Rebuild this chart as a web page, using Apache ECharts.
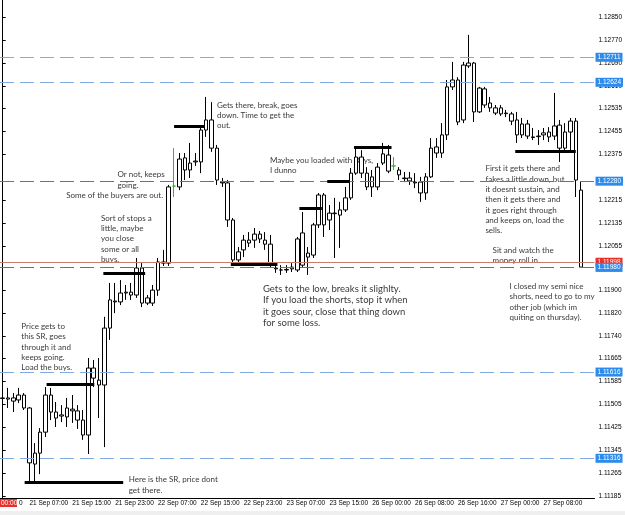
<!DOCTYPE html>
<html><head><meta charset="utf-8">
<script src="https://cdn.jsdelivr.net/npm/echarts@6/dist/echarts.min.js"></script>
<style>html,body{margin:0;padding:0;background:#fff}#c{width:625px;height:515px}</style>
</head><body><div id="c"></div>
<script>
// ---- categories (H1 bars, weekend gap) ----
const sessions = [
  {month:'Sep', day:21, hour:2, count:69},   // 21 Sep 02:00 .. 23 Sep 22:00
  {month:'Sep', day:26, hour:0, count:42}    // 26 Sep 00:00 .. 27 Sep 17:00
];
const categories = [];
sessions.forEach(s => {
  for (let k = 0; k < s.count; k++) {
    const h = s.hour + k;
    const d = s.day + Math.floor(h / 24);
    const hh = h % 24;
    categories.push(d + ' ' + s.month + ' ' + (hh < 10 ? '0' : '') + hh + ':00');
  }
});
const labelEvery = 8, labelStart = 5, labelLast = 101;

// ---- candle values ----
const openP = [
1.11526,1.11522,1.11515,1.11519,1.11536,1.11491,1.11296,1.11334,1.11407,1.11536,
1.11477,1.11463,1.11460,1.11481,1.11481,1.11449,1.11397,1.11630,1.11588,1.11571,
1.11769,1.11863,1.11860,1.11891,1.11884,1.11884,1.11978,1.11874,1.11856,1.11901,
1.11995,1.11995,1.12263,1.12260,1.12319,1.12343,1.12347,1.12347,1.12458,1.12493,
1.12395,1.12277,1.12274,1.12145,1.12006,1.12041,1.12065,1.12075,1.12096,1.12075,
1.12061,1.11978,1.11971,1.11973,1.11975,1.11971,1.12100,1.12016,1.12023,1.12128,
1.12232,1.12145,1.12169,1.12162,1.12180,1.12222,1.12308,1.12364,1.12308,1.12260,
1.12260,1.12343,1.12371,1.12333,1.12319,1.12291,1.12291,1.12277,1.12277,1.12239,
1.12295,1.12378,1.12378,1.12441,1.12608,1.12632,1.12493,1.12681,1.12691,1.12521,
1.12601,1.12552,1.12535,1.12535,1.12517,1.12514,1.12493,1.12441,1.12479,1.12434,
1.12437,1.12441,1.12434,1.12437,1.12475,1.12395,1.12451,1.12489,1.12249];
const closeP = [
1.11524,1.11526,1.11526,1.11536,1.11491,1.11300,1.11334,1.11407,1.11536,1.11477,
1.11456,1.11467,1.11491,1.11487,1.11449,1.11397,1.11630,1.11595,1.11571,1.11769,
1.11867,1.11860,1.11891,1.11894,1.11894,1.11978,1.11856,1.11856,1.11901,1.11999,
1.11999,1.12260,1.12263,1.12357,1.12361,1.12319,1.12350,1.12458,1.12493,1.12395,
1.12284,1.12274,1.12145,1.12006,1.12034,1.12075,1.12075,1.12096,1.12079,1.12061,
1.11992,1.11975,1.11971,1.11971,1.11981,1.12079,1.11988,1.12030,1.12128,1.12232,
1.12128,1.12169,1.12167,1.12180,1.12222,1.12308,1.12364,1.12308,1.12260,1.12295,
1.12329,1.12375,1.12315,1.12333,1.12302,1.12289,1.12281,1.12274,1.12239,1.12295,
1.12395,1.12399,1.12441,1.12608,1.12632,1.12486,1.12684,1.12691,1.12521,1.12604,
1.12545,1.12535,1.12517,1.12514,1.12515,1.12489,1.12441,1.12479,1.12437,1.12432,
1.12435,1.12448,1.12451,1.12472,1.12395,1.12451,1.12489,1.12284,1.11981];
const highP = [
1.11543,1.11561,1.11543,1.11561,1.11543,1.11494,1.11369,1.11421,1.11564,1.11561,
1.11512,1.11501,1.11526,1.11536,1.11501,1.11484,1.11665,1.11658,1.11665,1.11808,
1.11926,1.11926,1.11936,1.11919,1.11926,1.12013,1.11995,1.11884,1.11919,1.12013,
1.12041,1.12267,1.12395,1.12378,1.12378,1.12413,1.12378,1.12468,1.12573,1.12555,
1.12406,1.12291,1.12284,1.12152,1.12051,1.12093,1.12103,1.12117,1.12107,1.12103,
1.12093,1.11988,1.11988,1.11988,1.11995,1.12086,1.12173,1.12051,1.12135,1.12239,
1.12239,1.12197,1.12222,1.12208,1.12260,1.12326,1.12399,1.12388,1.12329,1.12319,
1.12343,1.12413,1.12406,1.12364,1.12329,1.12312,1.12312,1.12308,1.12295,1.12308,
1.12430,1.12430,1.12482,1.12632,1.12695,1.12642,1.12695,1.12789,1.12695,1.12608,
1.12608,1.12573,1.12545,1.12545,1.12528,1.12521,1.12521,1.12500,1.12493,1.12465,
1.12458,1.12465,1.12468,1.12587,1.12493,1.12482,1.12500,1.12500,1.12277];
const lowP = [
1.11508,1.11491,1.11477,1.11508,1.11484,1.11234,1.11230,1.11261,1.11390,1.11449,
1.11425,1.11442,1.11425,1.11439,1.11418,1.11380,1.11331,1.11564,1.11456,1.11355,
1.11728,1.11821,1.11849,1.11867,1.11867,1.11874,1.11842,1.11849,1.11846,1.11881,
1.11985,1.11985,1.12225,1.12249,1.12284,1.12291,1.12333,1.12308,1.12434,1.12382,
1.12267,1.12260,1.12121,1.11992,1.11995,1.12016,1.12051,1.12048,1.12065,1.12041,
1.11978,1.11961,1.11954,1.11961,1.11964,1.11964,1.11981,1.11954,1.12013,1.12117,
1.12086,1.12110,1.12013,1.12048,1.12173,1.12215,1.12302,1.12291,1.12249,1.12225,
1.12249,1.12336,1.12308,1.12319,1.12284,1.12277,1.12267,1.12256,1.12208,1.12215,
1.12291,1.12361,1.12361,1.12423,1.12597,1.12475,1.12482,1.12674,1.12486,1.12517,
1.12535,1.12521,1.12510,1.12507,1.12503,1.12475,1.12413,1.12430,1.12427,1.12423,
1.12406,1.12423,1.12416,1.12423,1.12347,1.12388,1.12388,1.12225,1.11978];
const greenBars = [32, 73];

// ---- price axis ----
const yMin = 1.111779, yMax = 1.129103;
const yTicks = [1.11185,1.11265,1.11345,1.11425,1.11505,1.11585,1.11665,1.11740,1.11820,1.11900,
                1.12055,1.12135,1.12215,1.12375,1.12455,1.12535,1.12610,1.12690,1.12770,1.12850];

// ---- horizontal levels ----
const levelPrices = [1.12711, 1.12624, 1.12280, 1.11998, 1.11980, 1.11616, 1.11316];
const levelKinds  = ['light', 'light', 'dark', 'red', 'dark', 'light', 'light'];

// ---- drawn S/R segments (bar index from..to, price) ----
const srPrice = [1.11234, 1.11574, 1.11961, 1.12472, 1.11992, 1.12187, 1.12281, 1.12399, 1.12385];
const srFrom  = [4.1, 8.2, 18.8, 32.0, 42.6, 55.4, 60.6, 65.6, 95.7];
const srTo    = [22.5, 17.1, 26.6, 37.6, 51.3, 59.6, 64.8, 72.6, 107.0];

// ---- text notes (anchor: bar index, price of top-left) ----
const noteText = [
  'Here is the SR, price dont\nget there.',
  'Price gets to\nthis SR, goes\nthrough it and\nkeeps going.\nLoad the buys.',
  'Sort of stops a\nlittle, maybe\nyou close\nsome or all\nbuys.',
  'Or not, keeps\ngoing.',
  'Some of the buyers are out.',
  'Gets there, break, goes\ndown. Time to get the\nout.',
  'Maybe you loaded with Buys,\nI dunno',
  'Gets to the low, breaks it slighlty.\nIf you load the shorts, stop it when\nit goes sour, close that thing down\nfor some loss.',
  'First it gets there and\nfakes a little down, but\nit doesnt sustain, and\nthen it gets there and\nit goes right through\nand keeps on, load the\nsells.',
  'Sit and watch the\nmoney roll in',
  'I closed my semi nice\nshorts, need to go to my\nother job (which im\nquiting on thursday).'
];
const noteX = [23.63, 3.58, 18.43, 21.53, 11.94, 40.10, 49.99, 48.69, 90.22, 91.57, 94.73];
const noteY = [1.11258, 1.11791, 1.12168, 1.12318, 1.12246, 1.12561, 1.12369, 1.11923, 1.12339, 1.12055, 1.11930];
const noteBig = [7];   // the note written in a larger font

// ---------------- build ----------------
const AX_FONT = 'Liberation Sans';
const levelStyle = {
  light: {line: {color: '#7EABE0', width: 1, type: [14, 6]}, box: '#2D8CEB'},
  dark:  {line: {color: '#3A7AD2', width: 1, type: [14, 6]}, box: '#2D8CEB'},
  red:   {line: {color: '#CC7A6E', width: 1, type: 'solid'}, box: '#E5322B'}
};
const greenStyle = {color: '#fff', color0: '#fff', borderColor: '#22c022', borderColor0: '#22c022', borderColorDoji: '#22c022'};

const candleData = openP.map((o, i) => {
  const v = [o, closeP[i], lowP[i], highP[i]];
  return greenBars.indexOf(i) >= 0 ? {value: v, itemStyle: greenStyle} : v;
});

const showTick = (idx) => idx >= labelStart && idx <= labelLast && (idx - labelStart) % labelEvery === 0;
const X_LO = -0.5, X_HI = 110.5;

const chart = echarts.init(document.getElementById('c'), null, {renderer: 'canvas'});
chart.setOption({
  animation: false,
  backgroundColor: '#fff',
  grid: {left: -2, right: 29, top: 0, bottom: 17, containLabel: false},
  xAxis: [{
    type: 'category', data: categories, boundaryGap: true,
    axisLine: {lineStyle: {color: '#000', width: 1}},
    axisTick: {interval: showTick, alignWithLabel: true, length: 3, lineStyle: {color: '#000'}},
    axisLabel: {interval: showTick, align: 'left', margin: 2, fontSize: 6.5, fontFamily: AX_FONT, color: '#000'},
    splitLine: {show: false}
  }, {
    type: 'value', min: X_LO, max: X_HI, show: false
  }],
  yAxis: {
    type: 'value', position: 'right', min: yMin, max: yMax, scale: true,
    axisLine: {show: true, lineStyle: {color: '#000', width: 1}},
    axisTick: {show: true, customValues: yTicks, length: 3, lineStyle: {color: '#000'}},
    axisLabel: {customValues: yTicks, formatter: v => v.toFixed(5), margin: 4, fontSize: 6.5, fontFamily: AX_FONT, color: '#000'},
    splitLine: {show: false}
  },
  series: [
    {
      type: 'scatter', xAxisIndex: 1, z: 1, silent: true,
      symbolSize: 1, itemStyle: {color: 'transparent'},
      data: noteText.map((t, i) => {
        const big = noteBig.indexOf(i) >= 0;
        return {name: t, value: [noteX[i], noteY[i]],
                label: big ? {fontSize: 9.5, lineHeight: 11.3} : {}};
      }),
      label: {show: true, position: [0, 0], align: 'left', verticalAlign: 'top',
              formatter: p => p.name, fontSize: 8, lineHeight: 10.3, fontFamily: 'Lato', color: '#000'}
    },
    {
      type: 'candlestick', xAxisIndex: 0, z: 2, barWidth: 4, silent: true,
      itemStyle: {color: '#fff', color0: '#fff', borderColor: '#000', borderColor0: '#000', borderColorDoji: '#000', borderWidth: 1},
      data: candleData
    },
    {
      type: 'scatter', xAxisIndex: 1, z: 3, silent: true, symbolSize: 0,
      data: [[X_LO, levelPrices[0]]],
      markLine: {
        silent: true, symbol: 'none', animation: false,
        data: levelPrices.map((p, i) => {
          const st = levelStyle[levelKinds[i]];
          return [{
            coord: [X_LO, p],
            lineStyle: st.line,
            label: {show: true, position: 'end', distance: 1, formatter: () => p.toFixed(5),
                    backgroundColor: st.box, color: '#fff', fontSize: 6.5, fontFamily: AX_FONT,
                    padding: [1, 2, 1, 2]}
          }, {coord: [X_HI, p]}];
        })
      }
    },
    {
      type: 'scatter', xAxisIndex: 1, z: 4, silent: true, symbolSize: 0,
      data: [[X_LO, srPrice[0]]],
      markLine: {
        silent: true, symbol: 'none', animation: false,
        lineStyle: {color: '#000', width: 3, type: 'solid'},
        label: {show: false},
        data: srPrice.map((p, i) => [{coord: [srFrom[i], p]}, {coord: [srTo[i], p]}])
      }
    }
  ],
  graphic: [
    {type: 'rect', left: 0, top: 511, shape: {width: 625, height: 4}, style: {fill: '#efefef'}, silent: true},
    {type: 'rect', left: 0, top: 499, shape: {width: 17, height: 8}, style: {fill: '#e5322b'}, silent: true},
    {type: 'text', left: 1, top: 499.5, style: {text: '00:00', fill: '#fff', font: '6.5px "Liberation Sans"'}, silent: true},
    {type: 'text', left: 19, top: 499.5, style: {text: '0', fill: '#000', font: '6.5px "Liberation Sans"'}, silent: true}
  ]
});
</script>
</body></html>
